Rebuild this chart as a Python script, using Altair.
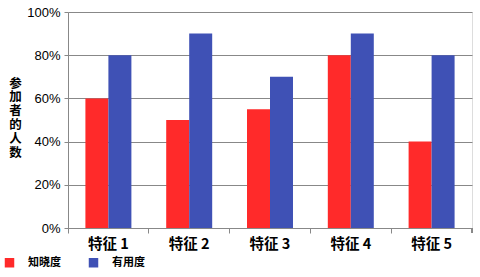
import altair as alt
import pandas as pd

features = ["特征 1", "特征 2", "特征 3", "特征 4", "特征 5"]
awareness = [0.60, 0.50, 0.55, 0.80, 0.40]
usefulness = [0.80, 0.90, 0.70, 0.90, 0.80]
series = ["知晓度", "有用度"]
colors = ["#FF2A2A", "#3F51B5"]

rows = []
for f, a, u in zip(features, awareness, usefulness):
    rows.append({"feature": f, "series": series[0], "value": a})
    rows.append({"feature": f, "series": series[1], "value": u})
df = pd.DataFrame(rows)

bars = alt.Chart(df).mark_bar().encode(
    x=alt.X("feature:N", sort=features,
            scale=alt.Scale(paddingInner=0, paddingOuter=0),
            axis=alt.Axis(title=None, labelAngle=0, bandPosition=0,
                          labelFont="Noto Sans CJK SC", labelFontWeight="bold",
                          labelFontSize=14.5, labelColor="#000", labelPadding=4,
                          tickColor="#888", tickSize=5, domainColor="#888",
                          grid=False)),
    xOffset=alt.XOffset("series:N", sort=series,
                        scale=alt.Scale(paddingInner=0, paddingOuter=0.757)),
    y=alt.Y("value:Q", scale=alt.Scale(domain=[0, 1]),
            axis=alt.Axis(format="%", values=[0, 0.2, 0.4, 0.6, 0.8, 1.0],
                          title=["参", "加", "者", "的", "人", "数"],
                          titleAngle=0, titleAlign="center", titleBaseline="top",
                          titleX=-53, titleY=65, titleFont="Noto Sans CJK SC",
                          titleFontWeight="bold", titleFontSize=12.5, titleLineHeight=13.8,
                          titleColor="#000",
                          labelFont="Liberation Sans", labelFontSize=13, labelColor="#000",
                          labelPadding=4, tickSize=4, tickColor="#888",
                          domainColor="#888", gridColor="#888", gridWidth=1)),
    color=alt.Color("series:N", sort=series,
                    scale=alt.Scale(domain=series, range=colors),
                    legend=alt.Legend(title=None, orient="none", direction="horizontal",
                                      legendX=-64, legendY=245,
                                      symbolType="square", symbolSize=90,
                                      symbolStrokeWidth=0, symbolOpacity=1,
                                      labelFont="Noto Sans CJK SC", labelFontSize=11,
                                      labelFontWeight="bold", labelColor="#000",
                                      labelOffset=13, columnPadding=27)),
)

tick_end = alt.Chart(df).mark_rule(color="#888").encode(
    x=alt.value(404), y=alt.value(216), y2=alt.value(221)
)

chart = alt.layer(bars, tick_end).properties(
    width=404, height=216,
    autosize=alt.AutoSizeParams(type="none"),
    padding={"left": 68, "top": 12, "right": 8, "bottom": 49},
).configure_view(stroke="#888", strokeWidth=1).configure(background="white")

chart.save("out.html", embed_options={"renderer": "svg", "actions": False})
